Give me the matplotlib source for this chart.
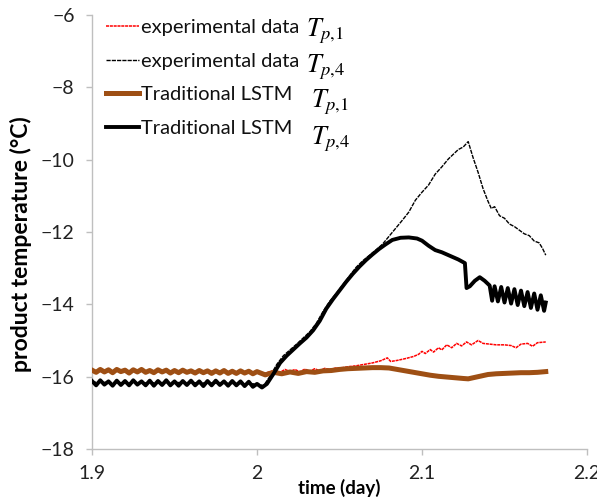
import matplotlib
matplotlib.use("Agg")
import matplotlib.pyplot as plt

plt.rcParams['font.family'] = ['Lato', 'DejaVu Sans']
plt.rcParams['mathtext.fontset'] = 'stix'

# shared time grid for the oscillating flat part (day)
t_flat = [1.9000, 1.9025, 1.9050, 1.9075, 1.9100, 1.9125, 1.9150, 1.9175, 1.9200, 1.9225,
          1.9250, 1.9275, 1.9300, 1.9325, 1.9350, 1.9375, 1.9400, 1.9425, 1.9450, 1.9475,
          1.9500, 1.9525, 1.9550, 1.9575, 1.9600, 1.9625, 1.9650, 1.9675, 1.9700, 1.9725,
          1.9750, 1.9775, 1.9800, 1.9825, 1.9850, 1.9875, 1.9900, 1.9925, 1.9950, 1.9975,
          2.0000]

# experimental data Tp,1
t_exp1 = [1.900, 1.925, 1.950, 1.975, 2.000, 2.004, 2.008, 2.011, 2.014, 2.017, 2.020, 2.023,
          2.026, 2.029, 2.032, 2.035, 2.038, 2.041, 2.044, 2.048, 2.052, 2.056, 2.060, 2.065,
          2.070, 2.075, 2.079, 2.081, 2.085, 2.090, 2.095, 2.098, 2.100, 2.102, 2.105, 2.107,
          2.110, 2.112, 2.115, 2.118, 2.121, 2.124, 2.127, 2.130, 2.134, 2.137, 2.141, 2.145,
          2.150, 2.154, 2.157, 2.160, 2.164, 2.167, 2.170, 2.175]
v_exp1 = [-15.86, -15.84, -15.86, -15.85, -15.88, -15.92, -15.86, -15.82, -15.88, -15.80, -15.86, -15.80,
          -15.87, -15.79, -15.85, -15.78, -15.84, -15.77, -15.80, -15.76, -15.75, -15.72, -15.70, -15.66,
          -15.62, -15.56, -15.48, -15.58, -15.55, -15.50, -15.44, -15.38, -15.30, -15.36, -15.25, -15.32,
          -15.20, -15.26, -15.12, -15.20, -15.08, -15.15, -15.04, -15.12, -15.00, -15.08, -15.10, -15.12,
          -15.12, -15.14, -15.20, -15.10, -15.08, -15.16, -15.06, -15.04]

# experimental data Tp,4
t_exp4 = [1.900, 1.925, 1.950, 1.975, 2.000, 2.004, 2.008, 2.012, 2.016, 2.020, 2.024, 2.028,
          2.032, 2.036, 2.040, 2.044, 2.048, 2.052, 2.056, 2.060, 2.064, 2.068, 2.072, 2.076,
          2.080, 2.084, 2.088, 2.092, 2.096, 2.100, 2.104, 2.108, 2.112, 2.116, 2.119, 2.122,
          2.125, 2.128, 2.131, 2.134, 2.137, 2.140, 2.142, 2.144, 2.147, 2.150, 2.153, 2.156,
          2.159, 2.162, 2.165, 2.168, 2.171, 2.173, 2.175]
v_exp4 = [-16.15, -16.18, -16.16, -16.18, -16.20, -16.25, -15.98, -15.66, -15.42, -15.26, -15.10, -14.93,
          -14.76, -14.52, -14.20, -13.92, -13.70, -13.46, -13.22, -12.98, -12.80, -12.65, -12.50, -12.34,
          -12.12, -11.90, -11.68, -11.45, -11.12, -10.90, -10.70, -10.40, -10.20, -9.98, -9.85, -9.72,
          -9.65, -9.50, -9.95, -10.35, -10.80, -11.15, -11.35, -11.30, -11.55, -11.62, -11.78, -11.85,
          -11.95, -12.05, -12.10, -12.25, -12.30, -12.45, -12.64]

# Traditional LSTM Tp,1
v_lstm1_flat = [-15.82, -15.88, -15.80, -15.87, -15.81, -15.89, -15.80, -15.86, -15.82, -15.90,
                -15.81, -15.87, -15.80, -15.88, -15.83, -15.89, -15.81, -15.87, -15.82, -15.90,
                -15.83, -15.89, -15.82, -15.88, -15.84, -15.90, -15.83, -15.89, -15.84, -15.91,
                -15.84, -15.90, -15.83, -15.91, -15.85, -15.91, -15.84, -15.90, -15.85, -15.92,
                -15.86]
t_lstm1_rest = [2.005, 2.010, 2.015, 2.020, 2.025, 2.030, 2.035, 2.040, 2.045, 2.050, 2.055, 2.060,
                2.065, 2.070, 2.075, 2.080, 2.085, 2.090, 2.095, 2.100, 2.105, 2.110, 2.115, 2.120,
                2.125, 2.128, 2.132, 2.136, 2.140, 2.145, 2.150, 2.155, 2.160, 2.165, 2.170, 2.175]
v_lstm1_rest = [-15.95, -15.88, -15.92, -15.87, -15.91, -15.86, -15.88, -15.84, -15.83, -15.80, -15.78, -15.77,
                -15.76, -15.75, -15.75, -15.76, -15.80, -15.84, -15.88, -15.92, -15.96, -15.99, -16.01, -16.03,
                -16.05, -16.06, -16.02, -15.98, -15.94, -15.92, -15.91, -15.90, -15.89, -15.89, -15.88, -15.86]

# Traditional LSTM Tp,4
v_lstm4_flat = [-16.12, -16.24, -16.10, -16.22, -16.13, -16.25, -16.11, -16.23, -16.12, -16.24,
                -16.10, -16.22, -16.13, -16.24, -16.11, -16.25, -16.12, -16.23, -16.10, -16.24,
                -16.13, -16.25, -16.12, -16.23, -16.11, -16.24, -16.13, -16.26, -16.12, -16.24,
                -16.11, -16.23, -16.13, -16.25, -16.12, -16.24, -16.13, -16.26, -16.14, -16.28,
                -16.20]
t_lstm4_rest = [2.003, 2.006, 2.010, 2.014, 2.018, 2.022, 2.026, 2.030, 2.034, 2.038, 2.042, 2.046,
                2.050, 2.054, 2.058, 2.062, 2.066, 2.070, 2.074, 2.078, 2.082, 2.087, 2.092, 2.097,
                2.100, 2.104, 2.108, 2.112, 2.117, 2.122, 2.126, 2.127, 2.129, 2.132, 2.135, 2.138,
                2.141, 2.1425, 2.144, 2.146, 2.148, 2.150, 2.152, 2.154, 2.156, 2.158, 2.160, 2.162,
                2.164, 2.166, 2.168, 2.170, 2.172, 2.174, 2.175]
v_lstm4_rest = [-16.30, -16.20, -15.92, -15.62, -15.42, -15.25, -15.08, -14.92, -14.72, -14.46, -14.12, -13.86,
                -13.62, -13.38, -13.16, -12.96, -12.78, -12.62, -12.47, -12.34, -12.22, -12.16, -12.15, -12.18,
                -12.24, -12.38, -12.50, -12.56, -12.66, -12.76, -12.86, -13.55, -13.50, -13.35, -13.25, -13.35,
                -13.48, -13.90, -13.50, -13.92, -13.52, -13.95, -13.55, -13.98, -13.58, -14.02, -13.62, -14.05,
                -13.66, -14.10, -13.70, -14.15, -13.75, -14.18, -13.95]

labels = ["experimental data", "experimental data", "Traditional LSTM", "Traditional LSTM"]
sym_labels = [r"$T_{p{,}1}$", r"$T_{p{,}4}$", r"$T_{p{,}1}$", r"$T_{p{,}4}$"]
x_ticks = [1.9, 2.0, 2.1, 2.2]
x_ticklabels = ["1.9", "2", "2.1", "2.2"]
y_ticks = [-18, -16, -14, -12, -10, -8, -6]

brown = '#9E4F14'
axis_grey = '#BFBFBF'

fig = plt.figure(figsize=(5.97, 5.03), dpi=100)
ax = fig.add_axes([92 / 597, 1 - 449 / 503, 495 / 597, 434 / 503])

l1, = ax.plot(t_exp1, v_exp1, color='red', lw=1.1, ls=(0, (2, 0.5)), zorder=2)
l2, = ax.plot(t_exp4, v_exp4, color='black', lw=1.0, ls=(0, (3, 0.8)), zorder=2)
l3, = ax.plot(t_flat + t_lstm1_rest, v_lstm1_flat + v_lstm1_rest, color=brown, lw=3.6, zorder=3)
l4, = ax.plot(t_flat + t_lstm4_rest, v_lstm4_flat + v_lstm4_rest, color='black', lw=2.8, zorder=3)

ax.set_xlim(1.9, 2.2)
ax.set_ylim(-18, -6)
ax.set_xticks(x_ticks)
ax.set_xticklabels(x_ticklabels)
ax.set_yticks(y_ticks)

for s in ['top', 'right']:
    ax.spines[s].set_visible(False)
for s in ['left', 'bottom']:
    ax.spines[s].set_color(axis_grey)
    ax.spines[s].set_linewidth(1.0)
ax.tick_params(axis='both', colors=axis_grey, labelcolor='#222222', labelsize=14, length=4.5, width=1.0)
ax.tick_params(axis='x', pad=7)
ax.tick_params(axis='y', pad=8)

ax.set_xlabel("time (day)", fontsize=13.5, fontweight='bold')
ax.xaxis.set_label_coords(0.5, -0.07)
ax.set_ylabel("product temperature (°C)", fontsize=16.5, fontweight='bold')
ax.yaxis.set_label_coords(-0.122, 0.472)

# legend
leg = ax.legend([l1, l2, l3, l4], labels, loc='upper left', frameon=False,
                bbox_to_anchor=(106 / 597, 1 - 19 / 503), bbox_transform=fig.transFigure,
                fontsize=14.5, handlelength=1.65, handletextpad=0.1, labelspacing=0.82,
                borderpad=0, borderaxespad=0)
for txt in leg.get_texts():
    txt.set_color('#111111')

# subscript symbols next to legend entries
sym_pos = [(306, 31), (306, 67), (311, 102), (311, 139)]
for (px, py), s in zip(sym_pos, sym_labels):
    fig.text(px / 597, 1 - py / 503, s, fontsize=19, va='center', ha='left')

fig.savefig("out.png", dpi=100)
